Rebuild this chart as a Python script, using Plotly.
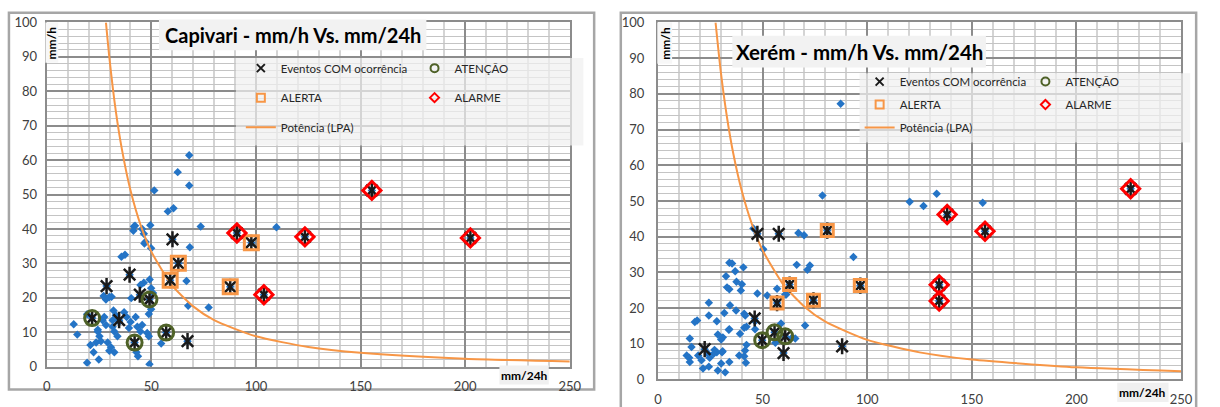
import plotly.graph_objects as go

W, H = 1220, 407

# ---------------- Capivari ----------------
cap_x = [51.4, 57.9, 60.6, 68.1, 62.6, 68.1, 73.6, 68.4, 66.8, 67.6, 77.4, 109.8,
         49.5, 41.7, 41.4, 45.6, 46.4, 46.7, 49.9, 35.7, 37.4, 46.4, 49.2, 28.3, 31.0,
         40.4, 49.9, 50.8, 49.9, 48.8, 12.9, 14.6, 19.3, 24.9, 22.4, 20.9, 24.4, 25.2,
         25.9, 23.6, 26.7, 28.3, 27.5, 29.1, 30.7, 32.3, 29.9, 31.9, 33.0, 31.5, 34.6,
         37.0, 38.2, 32.3, 33.8, 31.5, 40.1, 39.3, 42.5, 43.3, 44.8, 45.6, 42.9, 43.6,
         48.0, 48.8, 49.1, 54.7, 44.8, 27.2, 29.9, 24.4, 19.3, 47.2, 42.2,
         28.6, 39.6, 44.5, 34.6, 21.7, 42.0, 49.1, 57.1, 60.1, 62.9, 59.0, 67.3, 87.7,
         90.9, 97.8, 103.8, 123.4, 202.5, 155.4]
cap_y = [51.2, 45.1, 46.0, 61.4, 56.5, 52.6, 40.7, 34.7, 24.9, 17.7, 17.2, 40.5,
         41.1, 40.7, 39.5, 40.0, 38.6, 35.8, 34.4, 31.9, 32.5, 24.4, 25.3, 19.5, 20.3,
         19.9, 22.8, 21.4, 16.7, 15.3, 12.3, 9.3, 1.1, 2.1, 4.2, 6.3, 10.2, 8.8,
         7.4, 7.0, 13.5, 12.1, 14.4, 7.0, 5.6, 4.2, 4.6, 16.3, 14.9, 13.5, 13.0,
         15.8, 14.4, 10.2, 8.8, 11.6, 13.0, 11.2, 14.4, 11.6, 10.2, 12.1, 4.2, 3.0,
         9.8, 8.8, 0.7, 6.7, 23.7, 20.5, 20.2, 10.7, 15.2, 36.3, 40.9,
         23.4, 26.7, 20.9, 13.5, 14.1, 7.0, 19.5, 9.9, 37.0, 30.0, 25.1, 7.4, 23.2,
         38.8, 36.0, 20.9, 37.7, 37.4, 51.2]

cap_evt_x = [28.6, 39.6, 44.5, 34.6, 21.7, 42.0, 49.1, 57.1, 60.1, 62.9, 59.0, 67.3,
             87.7, 90.9, 97.8, 103.8, 123.4, 202.5, 155.4]
cap_evt_y = [23.4, 26.7, 20.9, 13.5, 14.1, 7.0, 19.5, 9.9, 37.0, 30.0, 25.1, 7.4,
             23.2, 38.8, 36.0, 20.9, 37.7, 37.4, 51.2]
cap_aten_x = [21.7, 42.0, 49.1, 57.1]
cap_aten_y = [14.1, 7.0, 19.5, 9.9]
cap_alerta_x = [62.9, 59.0, 87.7, 97.8]
cap_alerta_y = [30.0, 25.1, 23.2, 36.0]
cap_alarme_x = [90.9, 103.8, 123.4, 202.5, 155.4]
cap_alarme_y = [38.8, 20.9, 37.7, 37.4, 51.2]

cap_lpa_x = [28.3, 30, 33, 36, 40, 45, 50, 60, 70, 80, 100, 125, 150, 200, 250]
cap_lpa_y = [100, 89.4, 74.3, 62.9, 51.3, 40.9, 33.4, 23.5, 17.5, 13.5, 8.8, 5.7,
             4.0, 2.3, 1.5]

# ---------------- Xerém ----------------
xer_x = [87.3, 78.6, 133.2, 120.3, 126.9, 155.2, 67.1, 69.8, 93.4, 66.3, 72.6, 71.4,
         56.9, 61.3, 58.8, 70.3, 64.0, 45.6, 50.3, 34.1, 35.4, 40.8, 36.9, 32.5, 37.5,
         40.1, 33.0, 34.1, 39.6, 47.5, 52.2, 24.3, 34.4, 37.3, 24.3, 17.6, 18.7, 28.1,
         41.7, 34.1, 28.6, 31.0, 30.2, 15.2, 39.2, 41.2, 46.4, 16.0, 13.7, 14.9, 15.2,
         19.2, 20.8, 21.5, 24.3, 23.9, 24.7, 27.0, 28.1, 30.6, 28.6, 32.1, 30.2, 34.1,
         38.8, 41.2, 42.0, 41.6, 42.3, 65.6, 56.1, 31.7, 41.2, 46.4, 42.3, 33.8, 26.6,
         30.9, 60.8,
         47.5, 57.7, 46.2, 22.3, 49.8, 55.7, 60.8, 60.0, 56.9, 62.9, 74.3, 80.9, 96.7,
         88.0, 138.2, 156.3, 134.4, 134.4, 225.9]
xer_y = [77.2, 51.5, 52.0, 49.8, 48.6, 49.5, 41.0, 40.4, 34.3, 32.1, 31.9, 30.7,
         25.4, 23.8, 15.7, 15.1, 11.7, 42.3, 36.5, 32.7, 32.5, 31.4, 30.3, 28.9, 27.4,
         26.7, 25.8, 25.3, 24.9, 24.1, 23.5, 21.5, 20.8, 19.3, 17.9, 16.1, 16.5, 16.3,
         17.9, 14.1, 12.6, 11.8, 11.2, 11.5, 12.8, 14.5, 14.1, 9.1, 6.7, 6.1, 4.9,
         6.7, 5.4, 3.1, 3.6, 7.2, 6.1, 8.3, 7.6, 7.6, 2.5, 2.0, 4.5, 4.9,
         6.7, 6.5, 4.7, 8.1, 9.7, 11.5, 10.3, 18.6, 18.4, 16.3, 14.8, 13.9, 7.2,
         7.9, 23.8,
         40.8, 40.8, 17.1, 8.5, 11.0, 13.2, 12.1, 7.4, 21.4, 26.6, 22.2, 41.7, 26.3,
         9.3, 46.2, 41.5, 26.5, 22.0, 53.4]

xer_evt_x = [47.5, 57.7, 46.2, 22.3, 49.8, 55.7, 60.8, 60.0, 56.9, 62.9, 74.3, 80.9,
             96.7, 88.0, 138.2, 156.3, 134.4, 134.4, 225.9]
xer_evt_y = [40.8, 40.8, 17.1, 8.5, 11.0, 13.2, 12.1, 7.4, 21.4, 26.6, 22.2, 41.7,
             26.3, 9.3, 46.2, 41.5, 26.5, 22.0, 53.4]
xer_aten_x = [49.8, 55.7, 60.8]
xer_aten_y = [11.0, 13.2, 12.1]
xer_alerta_x = [56.9, 62.9, 74.3, 80.9, 96.7]
xer_alerta_y = [21.4, 26.6, 22.2, 41.7, 26.3]
xer_alarme_x = [138.2, 156.3, 134.4, 134.4, 225.9]
xer_alarme_y = [46.2, 41.5, 26.5, 22.0, 53.4]

xer_lpa_x = [27.5, 30, 33, 36, 40, 45, 50, 60, 70, 80, 100, 125, 150, 200, 250]
xer_lpa_y = [100, 86.2, 73.3, 63.2, 52.9, 43.3, 36.2, 26.5, 20.4, 16.2, 11.1, 7.6,
             5.6, 3.4, 2.3]

x_ticks = [0, 50, 100, 150, 200, 250]
y_ticks = [0, 10, 20, 30, 40, 50, 60, 70, 80, 90, 100]

BLUE = "#2474c6"
ORANGE = "#f79646"
OLIVE = "#4f6228"
RED = "#ff0000"
INK = "#1a1a1a"
FONT = "Lato"

LBL_EVT = "Eventos COM ocorrência"
LBL_ATEN = "ATENÇÃO"
LBL_ALERTA = "ALERTA"
LBL_ALARME = "ALARME"
LBL_LPA = "Potência (LPA)"

fig = go.Figure()


def open_marker(symbol, size, color, width):
    # open symbols take their stroke colour from marker.color
    return dict(symbol=symbol, size=size, color=color, line=dict(color=color, width=width))


def add_panel(xa, ya, px, py, ex, ey, atx, aty, alx, aly, amx, amy, cx, cy,
              leg_a, leg_b, tag, sq, dm):
    fig.add_trace(go.Scatter(x=px, y=py, mode="markers", xaxis=xa, yaxis=ya,
                             marker=dict(symbol="diamond", size=6.5, color=BLUE),
                             showlegend=False, hoverinfo="x+y"))
    fig.add_trace(go.Scatter(x=cx, y=cy, mode="lines", xaxis=xa, yaxis=ya,
                             line=dict(color=ORANGE, width=2, shape="spline", smoothing=0.6),
                             name=LBL_LPA, legend=leg_a, legendgroup=tag + "lpa",
                             legendrank=3))
    for sym in ("x-thin-open", "line-ns-open"):
        fig.add_trace(go.Scatter(x=ex, y=ey, mode="markers", xaxis=xa, yaxis=ya,
                                 marker=open_marker(sym, 11.5, INK, 2.5),
                                 showlegend=False))
    fig.add_trace(go.Scatter(x=atx, y=aty, mode="markers", xaxis=xa, yaxis=ya,
                             marker=open_marker("circle-open", 15, OLIVE, 3),
                             showlegend=False))
    fig.add_trace(go.Scatter(x=alx, y=aly, mode="markers", xaxis=xa, yaxis=ya,
                             marker=open_marker("square-open", sq, ORANGE, 3),
                             showlegend=False))
    fig.add_trace(go.Scatter(x=amx, y=amy, mode="markers", xaxis=xa, yaxis=ya,
                             marker=open_marker("diamond-open", dm, RED, 3),
                             showlegend=False))
    # legend keys
    keys = [
        (LBL_EVT, leg_a, 1, open_marker("x-thin-open", 8, INK, 2)),
        (LBL_ALERTA, leg_a, 2, open_marker("square-open", 8, ORANGE, 2)),
        (LBL_ATEN, leg_b, 1, open_marker("circle-open", 8, OLIVE, 2)),
        (LBL_ALARME, leg_b, 2, open_marker("diamond-open", 7, RED, 2)),
    ]
    for name, leg, rank, mk in keys:
        fig.add_trace(go.Scatter(x=[None], y=[None], mode="markers", xaxis=xa, yaxis=ya,
                                 marker=mk, name=name, legend=leg,
                                 legendgroup=tag + name, legendrank=rank))


add_panel("x", "y", cap_x, cap_y, cap_evt_x, cap_evt_y, cap_aten_x, cap_aten_y,
          cap_alerta_x, cap_alerta_y, cap_alarme_x, cap_alarme_y, cap_lpa_x, cap_lpa_y,
          "legend", "legend2", "cap", 14, 14)
add_panel("x2", "y2", xer_x, xer_y, xer_evt_x, xer_evt_y, xer_aten_x, xer_aten_y,
          xer_alerta_x, xer_alerta_y, xer_alarme_x, xer_alarme_y, xer_lpa_x, xer_lpa_y,
          "legend3", "legend4", "xer", 12, 14)


def px_x(p):
    return p / W


def px_y(p):
    return 1 - p / H


def axis_common(minor_dtick, minor_color, minor_w, ticks, standoff):
    return dict(
        range=[0, ticks[-1]], tickvals=ticks, showgrid=True, gridcolor="#8c8c8c",
        gridwidth=2, zeroline=False, showline=True, mirror=True, linecolor="#8c8c8c",
        linewidth=2, ticks="", ticklabelstandoff=standoff,
        tickfont=dict(family=FONT, size=13, color="#404040"),
        minor=dict(dtick=minor_dtick, tick0=0, showgrid=True, gridcolor=minor_color,
                   gridwidth=minor_w),
        fixedrange=True,
    )


layout = dict(
    width=W, height=H, margin=dict(l=0, r=0, t=0, b=0),
    paper_bgcolor="white", plot_bgcolor="white",
    font=dict(family=FONT, size=12, color="#404040"),
    xaxis=dict(domain=[px_x(43.3), px_x(573.3)], anchor="y",
               **axis_common(10, "#d4d4d4", 1.5, x_ticks, 7)),
    yaxis=dict(domain=[px_y(373.3), px_y(15)], anchor="x",
               **axis_common(2, "#c4c4c4", 1, y_ticks, 5)),
    xaxis2=dict(domain=[px_x(662.7), px_x(1192.7)], anchor="y2",
                **axis_common(10, "#d4d4d4", 1.5, x_ticks, 7)),
    yaxis2=dict(domain=[px_y(386.7), px_y(15)], anchor="x2",
                **axis_common(2, "#c4c4c4", 1, y_ticks, 9)),
)

leg_common = dict(bgcolor="rgba(0,0,0,0)", borderwidth=0, xanchor="left", yanchor="top",
                  orientation="v", traceorder="grouped",
                  font=dict(family=FONT, size=11.5, color="#262626"))
layout["legend"] = dict(x=px_x(240), y=px_y(47.5), tracegroupgap=10.5, **leg_common)
layout["legend2"] = dict(x=px_x(416), y=px_y(47.5), tracegroupgap=10.5, **leg_common)
layout["legend3"] = dict(x=px_x(867), y=px_y(61.5), tracegroupgap=4, **leg_common)
layout["legend4"] = dict(x=px_x(1035), y=px_y(61.5), tracegroupgap=4, **leg_common)

fig.update_layout(**layout)


def rect(x0, y0, x1, y1, **kw):
    fig.add_shape(type="rect", xref="paper", yref="paper",
                  x0=px_x(x0), x1=px_x(x1), y0=px_y(y1), y1=px_y(y0), **kw)


# chart frames
rect(5, 5, 598, 397, line=dict(color="#a6a6a6", width=2.5), layer="below")
rect(625, 5, 1208, 420, line=dict(color="#a6a6a6", width=2.5), layer="below")

# legend backdrops (translucent, grid shows through)
rect(235, 52, 587, 143, fillcolor="rgba(240,240,240,0.72)", line=dict(width=0), layer="above")
rect(867, 68, 1202, 140, fillcolor="rgba(240,240,240,0.72)", line=dict(width=0), layer="above")

# title boxes
rect(157, 12, 428, 44, fillcolor="#f2f2f2", line=dict(width=0), layer="above")
rect(738, 29, 995, 62, fillcolor="#f2f2f2", line=dict(width=0), layer="above")

# axis-title boxes
rect(42, 15, 55, 57, fillcolor="#f7f7f7", line=dict(width=0), layer="above")
rect(662, 15, 677, 58, fillcolor="#f7f7f7", line=dict(width=0), layer="above")
rect(502, 372, 552, 392, fillcolor="#f0f0f0", line=dict(width=0), layer="above")
rect(1128, 390, 1180, 410, fillcolor="#f0f0f0", line=dict(width=0), layer="above")


def label(text, x, y, size, angle=0):
    fig.add_annotation(xref="paper", yref="paper", x=px_x(x), y=px_y(y), text=text,
                       showarrow=False, textangle=angle, xanchor="center",
                       yanchor="middle",
                       font=dict(family=FONT, size=size, color="#000000"))


label("<b>Capivari - mm/h Vs. mm/24h</b>", 292.5, 28.5, 20)
label("<b>Xerém - mm/h Vs. mm/24h</b>", 866.5, 46, 20.5)
label("<b>mm/h</b>", 48.5, 36, 12, angle=-90)
label("<b>mm/h</b>", 669.5, 36.5, 12, angle=-90)
label("<b>mm/24h</b>", 527, 382.5, 12)
label("<b>mm/24h</b>", 1154, 400, 12)

fig.write_html("out.html")
